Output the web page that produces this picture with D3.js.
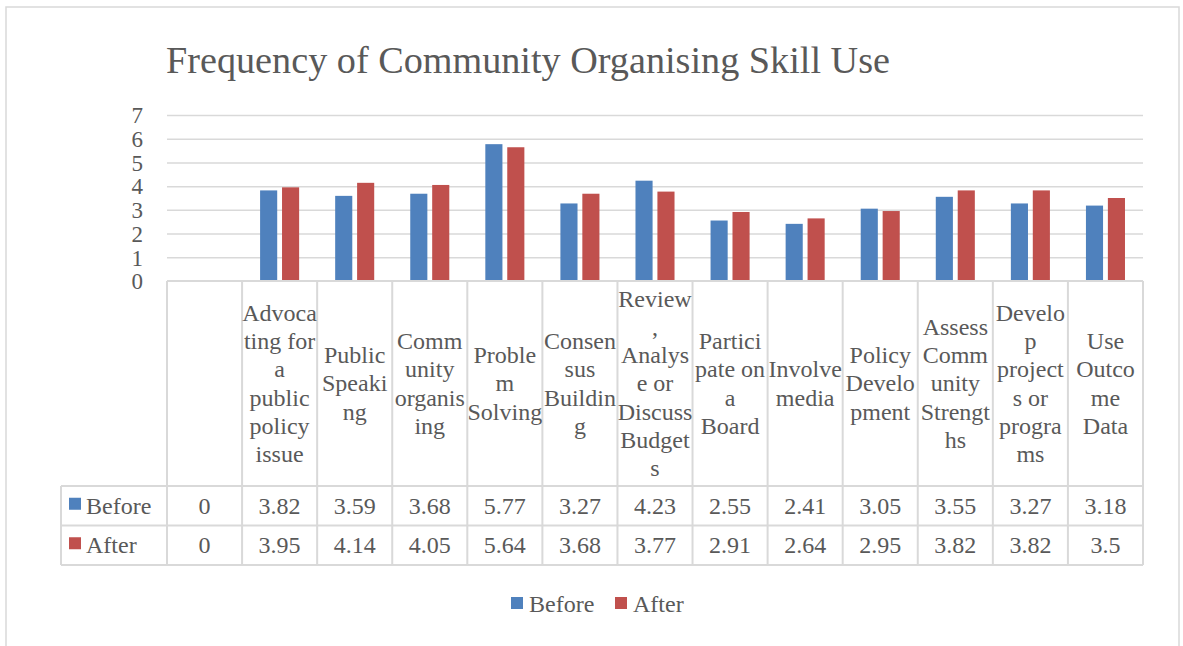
<!DOCTYPE html>
<html>
<head>
<meta charset="utf-8">
<script src="https://cdn.jsdelivr.net/npm/d3@7"></script>
<style>
  html, body { margin: 0; padding: 0; background: #fff; }
  svg { display: block; font-family: "Liberation Serif", "Times New Roman", serif; }
</style>
</head>
<body>
<svg id="chart" width="1183" height="646"></svg>
<script>
// Skill categories (the first column is an empty placeholder with zero values)
const categories = [
  "",
  "Advocating for a public policy issue",
  "Public Speaking",
  "Community organising",
  "Problem Solving",
  "Consensus Building",
  "Review, Analyse or Discuss Budgets",
  "Participate on a Board",
  "Involve media",
  "Policy Development",
  "Assess Community Strengths",
  "Develop projects or programs",
  "Use Outcome Data"
];

// How each category name wraps inside its table cell
const categoryLines = [
  [],
  ["Advoca", "ting for", "a", "public", "policy", "issue"],
  ["Public", "Speaki", "ng"],
  ["Comm", "unity", "organis", "ing"],
  ["Proble", "m", "Solving"],
  ["Consen", "sus", "Buildin", "g"],
  ["Review", ",", "Analys", "e or", "Discuss", "Budget", "s"],
  ["Partici", "pate on", "a", "Board"],
  ["Involve", "media"],
  ["Policy", "Develo", "pment"],
  ["Assess", "Comm", "unity", "Strengt", "hs"],
  ["Develo", "p", "project", "s or", "progra", "ms"],
  ["Use", "Outco", "me", "Data"]
];

const seriesNames = ["Before", "After"];
const before = [0, 3.82, 3.59, 3.68, 5.77, 3.27, 4.23, 2.55, 2.41, 3.05, 3.55, 3.27, 3.18];
const after  = [0, 3.95, 4.14, 4.05, 5.64, 3.68, 3.77, 2.91, 2.64, 2.95, 3.82, 3.82, 3.5];
const seriesValues = [before, after];
const seriesColors = ["#4f81bd", "#c0504d"];

const yTicks = [0, 1, 2, 3, 4, 5, 6, 7];
const chartTitle = "Frequency of Community Organising Skill Use";

const textColor = "#595959";
const lineColor = "#d9d9d9";
const fontSize = 24;

const svg = d3.select("#chart");

// Chart frame
svg.append("path")
  .attr("d", "M6,660 V7 H1179 V660")
  .attr("fill", "none")
  .attr("stroke", "#d9d9d9")
  .attr("stroke-width", 1.5);

// Title
svg.append("text")
  .attr("x", 166)
  .attr("y", 73)
  .attr("font-size", 37)
  .attr("fill", textColor)
  .attr("textLength", 724)
  .attr("lengthAdjust", "spacingAndGlyphs")
  .text(chartTitle);

// Scales
const plotLeft = 167, plotRight = 1143, plotTop = 115, plotBottom = 281;
const x = d3.scaleBand()
  .domain(categories)
  .range([plotLeft, plotRight])
  .paddingInner(0)
  .paddingOuter(0);
const bw = x.bandwidth();
const xSub = d3.scaleBand()
  .domain(seriesNames)
  .range([bw * 0.24, bw * 0.76])
  .paddingInner(0.22);
const y = d3.scaleLinear().domain([0, 7]).range([plotBottom, plotTop]);

// Gridlines
const grid = svg.append("g")
  .attr("transform", `translate(${plotLeft},0)`)
  .call(d3.axisLeft(y).tickValues(yTicks.filter(v => v > 0))
    .tickSize(-(plotRight - plotLeft)).tickFormat(""));
grid.select(".domain").remove();
grid.selectAll(".tick line")
  .attr("stroke", lineColor)
  .attr("stroke-width", 1.5);

// Y-axis labels
const yAxis = svg.append("g")
  .attr("transform", "translate(143,0)")
  .call(d3.axisLeft(y).tickValues(yTicks).tickSize(0).tickPadding(0).tickFormat(d3.format("d")));
yAxis.select(".domain").remove();
yAxis.selectAll(".tick text")
  .attr("font-family", "Liberation Serif, serif")
  .attr("font-size", 23)
  .attr("fill", textColor)
  .attr("dy", "0.34em");

// Bars
const groups = svg.append("g").selectAll("g")
  .data(categories)
  .join("g")
  .attr("transform", d => `translate(${x(d)},0)`);

groups.selectAll("rect")
  .data((d, i) => seriesNames.map((s, k) => ({ s, k, v: seriesValues[k][i] })))
  .join("rect")
  .attr("x", d => xSub(d.s))
  .attr("width", xSub.bandwidth())
  .attr("y", d => y(d.v))
  .attr("height", d => y(0) - y(d.v))
  .attr("fill", d => seriesColors[d.k]);

// Data table
const headerBottom = 486;
const rowH = 39.5;
const tableBottom = headerBottom + rowH * seriesNames.length;
const tableLeft = 61;
const table = svg.append("g");

// Horizontal rules
table.append("line")
  .attr("x1", plotLeft).attr("x2", plotRight)
  .attr("y1", plotBottom).attr("y2", plotBottom)
  .attr("stroke", lineColor).attr("stroke-width", 2);
d3.range(seriesNames.length + 1).forEach(r => {
  table.append("line")
    .attr("x1", tableLeft).attr("x2", plotRight)
    .attr("y1", headerBottom + r * rowH).attr("y2", headerBottom + r * rowH)
    .attr("stroke", lineColor).attr("stroke-width", 2);
});

// Vertical rules
const colEdges = categories.map(c => x(c)).concat([plotRight]);
colEdges.forEach(cx => {
  table.append("line")
    .attr("x1", cx).attr("x2", cx)
    .attr("y1", plotBottom).attr("y2", tableBottom)
    .attr("stroke", lineColor).attr("stroke-width", 2);
});
table.append("line")
  .attr("x1", tableLeft).attr("x2", tableLeft)
  .attr("y1", headerBottom).attr("y2", tableBottom)
  .attr("stroke", lineColor).attr("stroke-width", 2);

// Category header text
const headerMid = (plotBottom + headerBottom) / 2;
const lineGap = 28.3;
categories.forEach((c, i) => {
  const lines = categoryLines[i];
  const t = table.append("text")
    .attr("text-anchor", "middle")
    .attr("font-size", fontSize)
    .attr("fill", textColor);
  lines.forEach((ln, j) => {
    t.append("tspan")
      .attr("x", x(c) + bw / 2)
      .attr("y", headerMid + (j - (lines.length - 1) / 2) * lineGap)
      .attr("dy", "0.33em")
      .text(ln);
  });
});

// Series rows: legend key, name and values
seriesNames.forEach((s, k) => {
  const rowMid = headerBottom + rowH * k + rowH / 2;
  table.append("rect")
    .attr("x", 69).attr("y", rowMid - 8)
    .attr("width", 12).attr("height", 12)
    .attr("fill", seriesColors[k]);
  table.append("text")
    .attr("x", 86).attr("y", rowMid)
    .attr("dy", "0.33em")
    .attr("font-size", fontSize)
    .attr("fill", textColor)
    .text(s);
  categories.forEach((c, i) => {
    table.append("text")
      .attr("x", x(c) + bw / 2).attr("y", rowMid)
      .attr("dy", "0.33em")
      .attr("text-anchor", "middle")
      .attr("font-size", fontSize)
      .attr("fill", textColor)
      .text(seriesValues[k][i]);
  });
});

// Legend
const legendPos = [511, 615];
const legend = svg.append("g");
seriesNames.forEach((s, k) => {
  legend.append("rect")
    .attr("x", legendPos[k]).attr("y", 597)
    .attr("width", 12).attr("height", 12)
    .attr("fill", seriesColors[k]);
  legend.append("text")
    .attr("x", legendPos[k] + 18).attr("y", 612)
    .attr("font-size", fontSize)
    .attr("fill", textColor)
    .text(s);
});
</script>
</body>
</html>
